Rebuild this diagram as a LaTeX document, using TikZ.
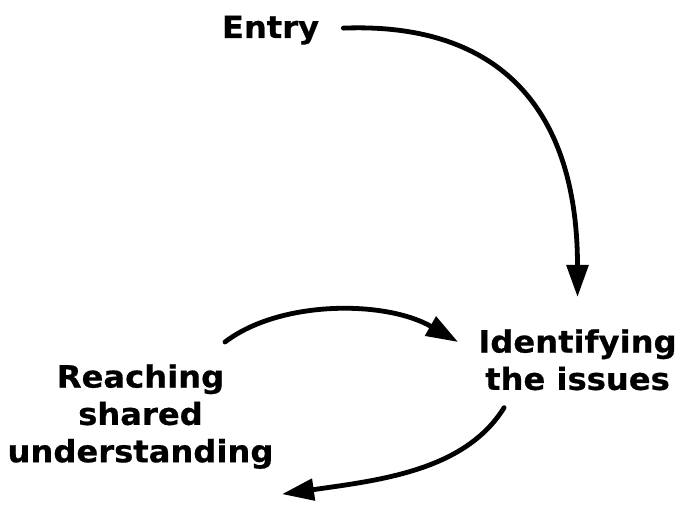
\documentclass[tikz,border=0pt]{standalone}
\usepackage{fontspec}
\setmainfont{DejaVu Sans}[BoldFeatures={FakeStretch=1.05,FakeBold=0.6}]
\usetikzlibrary{arrows.meta,calc}

\tikzset{
  lbl/.style={font=\bfseries\fontsize{23}{28}\selectfont, inner sep=0pt, align=center},
  flow/.style={line width=3.6pt, line cap=round, -{Triangle[length=24pt,width=16pt]}}
}

\begin{document}
\begin{tikzpicture}[x=0.75pt,y=0.75pt,yscale=-1,xscale=1]
\useasboundingbox (0,0) rectangle (681,505);

% Text Node
\node[lbl, anchor=base] (entry) at (270.5,38) {Entry};
% Text Node
\node[lbl, anchor=north] (issues) at (577.5,329) {Identifying\\the issues};
% Text Node
\node[lbl, anchor=north] (shared) at (140.5,364) {Reaching\\shared\\understanding};

%Curve Lines
\draw[flow] ($(entry.east)+(24,-2)$) .. controls +(157,-6) and +(0,-187) .. ($(issues.north)+(0,-32)$);
%Curve Lines
\draw[flow] ($(shared.north)+(84.5,-22)$) .. controls +(55,-42) and +(-73,-42) .. ($(issues.north west)+(-20,13)$);
%Curve Lines
\draw[flow] ($(issues.south west)+(26,17)$) .. controls +(-39,63) and +(98,-14) .. ($(shared.south)+(141.5,25)$);

\end{tikzpicture}
\end{document}
